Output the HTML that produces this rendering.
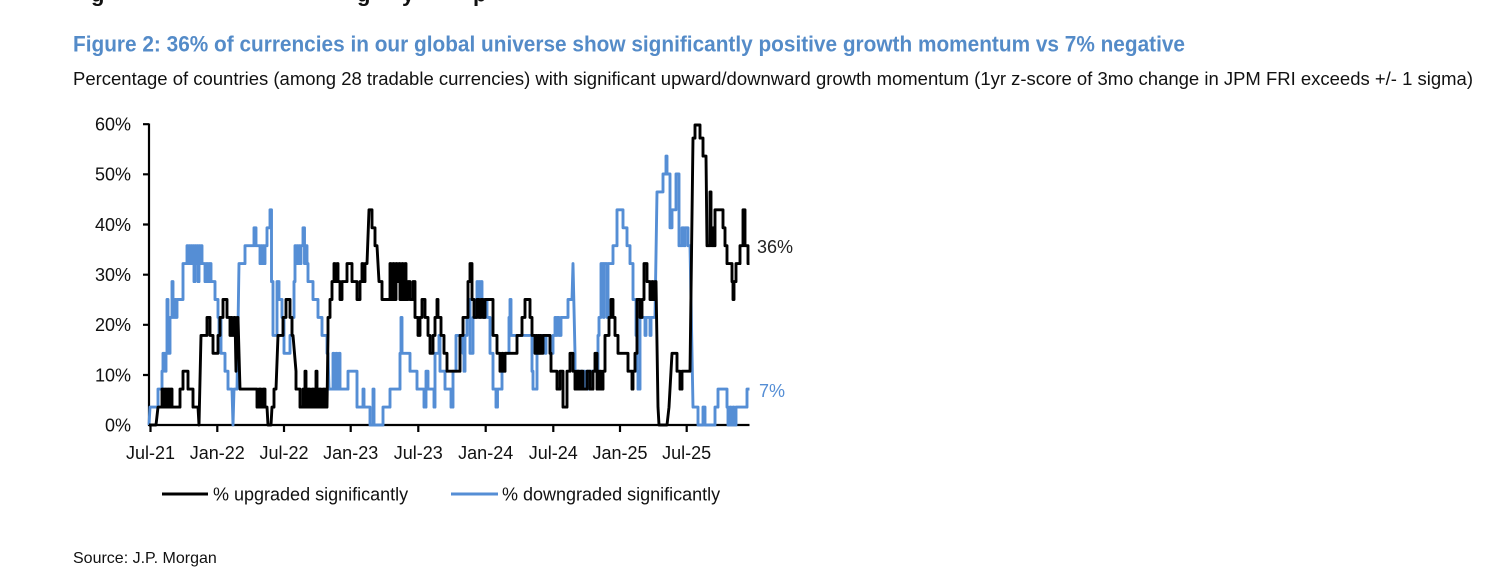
<!DOCTYPE html>
<html><head><meta charset="utf-8"><style>
html,body{margin:0;padding:0;background:#fff;}
svg{display:block;}
text{font-family:"Liberation Sans",Arial,sans-serif;}
</style></head><body>
<svg width="1505" height="586" viewBox="0 0 1505 586" xmlns="http://www.w3.org/2000/svg">
<rect width="1505" height="586" fill="#fff"/>
<g font-family="Liberation Serif, serif" font-weight="bold" font-size="22" fill="#111">
<text x="91" y="1.5">g</text><text x="357" y="1.5">g</text><text x="402" y="1.5">y</text><text x="473" y="1.5">p</text>
</g>
<text x="73" y="51.7" font-size="22" font-weight="bold" fill="#548BC8" textLength="1112" lengthAdjust="spacingAndGlyphs">Figure 2: 36% of currencies in our global universe show significantly positive growth momentum vs 7% negative</text>
<text x="73" y="85" font-size="18" fill="#111" textLength="1400" lengthAdjust="spacingAndGlyphs">Percentage of countries (among 28 tradable currencies) with significant upward/downward growth momentum (1yr z-score of 3mo change in JPM FRI exceeds +/- 1 sigma)</text>

<!-- axes -->
<g stroke="#000" stroke-width="2.2" fill="none">
<path d="M149,123.5 V425 H749.5"/>
<path d="M143,124.2H149 M143,174.3H149 M143,224.5H149 M143,274.7H149 M143,324.8H149 M143,375H149"/>
<path d="M150.5,425V432 M217.3,425V432 M284,425V432 M350.7,425V432 M418.3,425V432 M485.7,425V432 M553.3,425V432 M620,425V432 M686.7,425V432"/>
</g>
<g font-size="18" fill="#111" text-anchor="end">
<text x="131" y="130.5">60%</text>
<text x="131" y="180.6">50%</text>
<text x="131" y="230.8">40%</text>
<text x="131" y="281">30%</text>
<text x="131" y="331.1">20%</text>
<text x="131" y="381.3">10%</text>
<text x="131" y="431.5">0%</text>
</g>
<g font-size="18" fill="#111" text-anchor="middle">
<text x="150.5" y="459">Jul-21</text>
<text x="217.3" y="459">Jan-22</text>
<text x="284" y="459">Jul-22</text>
<text x="350.7" y="459">Jan-23</text>
<text x="418.3" y="459">Jul-23</text>
<text x="485.7" y="459">Jan-24</text>
<text x="553.3" y="459">Jul-24</text>
<text x="620" y="459">Jan-25</text>
<text x="686.7" y="459">Jul-25</text>
</g>

<!-- downgraded (blue) -->
<path fill="none" stroke="#558ED5" stroke-width="2.9" stroke-linejoin="round" d="M149,425 L150,407.1 H158 V389.1 H162 V371.2 H163 V353.3 H165 V371.2 H166 V353.3 H167 V299.5 H168 V353.3 H170 V317.4 H172 V281.6 H173 V317.4 H175 V299.5 H176 V317.4 H177 V299.5 H183 V263.6 H187 V245.7 H188 V263.6 H189 V245.7 H190 V263.6 H191 V245.7 H192 V263.6 H193 V245.7 H194 V281.6 H195 V245.7 H196 V263.6 H197 V245.7 H198 V281.6 H199 V245.7 H200 V263.6 H201 V245.7 H202 V263.6 H205 V281.6 H206 V263.6 H208 V281.6 H209 V263.6 H211 V281.6 H215 V299.5 H218 V317.4 H219 V335.4 H220 V317.4 H221 V353.3 H225 V371.2 H228 V389.1 H232 L233,425 L234,389.1 H237 L239,263.6 H245 V245.7 H254 V227.8 H256 V245.7 H260 V263.6 H261 V245.7 H262 V263.6 H263 V245.7 H264 V263.6 H265 V245.7 H267 V227.8 H270 V209.8 H271.5 V281.6 H273 V335.4 H277 V281.6 H279 V299.5 H282 V317.4 H284 V353.3 H290 V335.4 H292 V317.4 H294 V281.6 H295 V245.7 H296 V263.6 H297 V245.7 H298 V263.6 H299 V245.7 H300 V263.6 H301 V245.7 H303 V227.8 H304.5 V263.6 H306 V245.7 H307 V263.6 H308 V281.6 H313 V299.5 H318 V317.4 H322 V335.4 H327 V353.3 H328 L329,389.1 H333 V353.3 H334 V389.1 H336 V353.3 H337 V389.1 H339 V353.3 H340 V389.1 H348 V371.2 H357 V407.1 H363 V389.1 H364 V407.1 H370 V425 H373 V389.1 H374 V425 H383 V407.1 H390 V389.1 H400 V353.3 H401 V317.4 H402 V353.3 H410 V371.2 H417 V389.1 H424 V407.1 H426 V371.2 H428 V389.1 H434 V407.1 H435 V353.3 H439 V335.4 H440 V371.2 H445 V389.1 H451 V407.1 H453 V371.2 H456 V335.4 H463 V353.3 H464 V371.2 H465 V335.4 H467 V317.4 H468 V299.5 H470 V353.3 H473 V317.4 H476 V299.5 H477 V281.6 H478 V299.5 H479 V281.6 H480 V299.5 H481 V281.6 H482 V299.5 H484 V317.4 H485 V299.5 H487 V317.4 H490 V353.3 H493 V389.1 H496 V407.1 H497.5 V389.1 H502 V371.2 H505 V353.3 H509 V317.4 H510 V299.5 H511 V335.4 H532 V371.2 H533 V389.1 H537 V353.3 H540 V335.4 H545 V353.3 H546 V335.4 H550 V353.3 H553 V335.4 H555 V317.4 H556 V335.4 H557 V317.4 H559 V335.4 H561 V317.4 H568 V299.5 H572 L573,263.6 L575,353.3 V371.2 H582 V389.1 H584 V371.2 H585 V389.1 H587 V371.2 H588 V389.1 H590 V371.2 H598 V335.4 H599 V317.4 H601 V263.6 H603.5 V317.4 H604 V263.6 H607 V317.4 H608 V263.6 H613 V245.7 H617 V209.8 H623 V227.8 H627 V245.7 H630 V263.6 H633 V299.5 H636 V335.4 H637 V371.2 H638 V389.1 H640 V317.4 H645 V335.4 H646 V317.4 H650 V335.4 H651 V317.4 H655 L657,191.9 H663 V174 H666 V156.1 H667 V174 H670 V227.8 H672 V209.8 H676 V174 H679 V245.7 H682 V227.8 H684 V245.7 H685 V227.8 H688 V245.7 H690 L693,407.1 H698 V425 H703 V407.1 H705 V425 H715 V407.1 H718 V389.1 H727 V407.1 H728 V425 H730 V407.1 H731 V425 H733 V407.1 H734 V425 H736 V407.1 H747 V389.1 H749.5"/>

<!-- upgraded (black) -->
<path fill="none" stroke="#000" stroke-width="2.9" stroke-linejoin="round" d="M149,425 H156 L158,407.1 H162 V389.1 H163.5 V407.1 H165 V389.1 H166.5 V407.1 H168 V389.1 H169.5 V407.1 H171 V389.1 H172 V407.1 H180 V389.1 H183 V371.2 H188 V389.1 H193 V407.1 H198 L199,425 L201,335.4 H207 V317.4 H210 V335.4 H213 V353.3 H218 V335.4 H220 V317.4 H223 V299.5 H227 V317.4 H230 V335.4 H231 V317.4 H232 V335.4 H234 V317.4 H235 L236,371.2 L237,317.4 H238 L240,389.1 H257 V407.1 H259 V389.1 H261 V407.1 H263 V389.1 H265 V407.1 H267 L268,425 H271 L272,407.1 H274 V389.1 H276 L278,335.4 H283 V317.4 H286 V299.5 H290 V317.4 H292 V335.4 H293 L296,371.2 V389.1 H300 V407.1 H303 V389.1 H304 V407.1 H305 V371.2 H306 V407.1 H308 V389.1 H310 V407.1 H312 V389.1 H314 V407.1 H316 V371.2 H317 V407.1 H319 V389.1 H321 V407.1 H323 V389.1 H325 V407.1 H327 L328,335.4 V317.4 H330 V299.5 H332 V281.6 H334 V263.6 H335 V281.6 H337 V263.6 H338 V281.6 H340 V299.5 H342 V281.6 H347 V263.6 H352 V281.6 H357 V299.5 H360 V281.6 H362 V263.6 H363 V281.6 H365 V263.6 H367 L369,209.8 H372 V227.8 H375 V245.7 H377 L379,281.6 H382 V299.5 H390 V263.6 H391 V299.5 H393 V263.6 H394 V299.5 H396 V263.6 H397 V281.6 H399 V263.6 H400 V299.5 H402 V263.6 H403 V299.5 H405 V263.6 H406 V299.5 H408 V281.6 H410 V299.5 H413 V281.6 H415 V317.4 H418 V335.4 H420 V317.4 H422 V299.5 H425 V317.4 H428 V335.4 H430 V353.3 H433 V335.4 H435 V317.4 H437 V299.5 H438 V317.4 H441 V335.4 H444 V353.3 H447 V371.2 H460 V335.4 H463 V317.4 H468 V281.6 H470 V263.6 H472 V299.5 H474 V317.4 H477 V299.5 H479 V317.4 H481 V299.5 H483 V317.4 H485 V299.5 H493 V335.4 H497 V353.3 H500 V371.2 H502 V353.3 H503 V371.2 H505 V353.3 H517 V335.4 H522 V317.4 H525 V299.5 H530 V317.4 H532 V335.4 H535 V353.3 H536 V335.4 H537 V353.3 H538 V335.4 H539 V353.3 H540 V335.4 H541 V353.3 H543 V335.4 H550 V353.3 H551 V371.2 H557 V389.1 H560 V371.2 H563 V407.1 H567 V371.2 H570 V353.3 H573 V371.2 H575 V389.1 H577 V371.2 H579 V389.1 H581 V371.2 H583 V389.1 H587 V371.2 H590 V389.1 H593 V371.2 H595 V353.3 H597 V389.1 H598 V371.2 H599 V389.1 H600 V371.2 H601 V389.1 H603 V371.2 H605 V335.4 H609 V317.4 H611 V299.5 H613 V317.4 H615 V335.4 H618 V353.3 H628 V371.2 H632 V389.1 H633 V371.2 H635 V353.3 H637 V299.5 H640 V317.4 H642 V299.5 H644 V263.6 H647 V281.6 H650 V299.5 H652 V281.6 H653 V299.5 H655 V281.6 H656 L658,407.1 L659,425 H667 L669,407.1 L672,353.3 H677 V371.2 H680 V389.1 H682 V371.2 H690 L693,138.1 H695 V125 H700 V138.1 H703 V156.1 H706 L707,245.7 H710 V191.9 H711 V227.8 H712 V245.7 H713 V227.8 H714 V245.7 H715 V209.8 H723 V227.8 H725 V245.7 H727 V263.6 H732 V281.6 H733 V299.5 H734 V281.6 H736 V263.6 H740 V245.7 H743 V209.8 H745 V245.7 H748 V263.6 H749.5"/>

<text x="757" y="253" font-size="18" fill="#222">36%</text>
<text x="759" y="397" font-size="18" fill="#558ED5">7%</text>

<!-- legend -->
<line x1="162" y1="494" x2="208" y2="494" stroke="#000" stroke-width="2.9"/>
<text x="213" y="500.5" font-size="18" fill="#111">% upgraded significantly</text>
<line x1="451" y1="494" x2="498" y2="494" stroke="#558ED5" stroke-width="2.9"/>
<text x="502" y="500.5" font-size="18" fill="#111">% downgraded significantly</text>

<text x="73" y="563" font-size="16" fill="#111">Source: J.P. Morgan</text>
</svg>
</body></html>
